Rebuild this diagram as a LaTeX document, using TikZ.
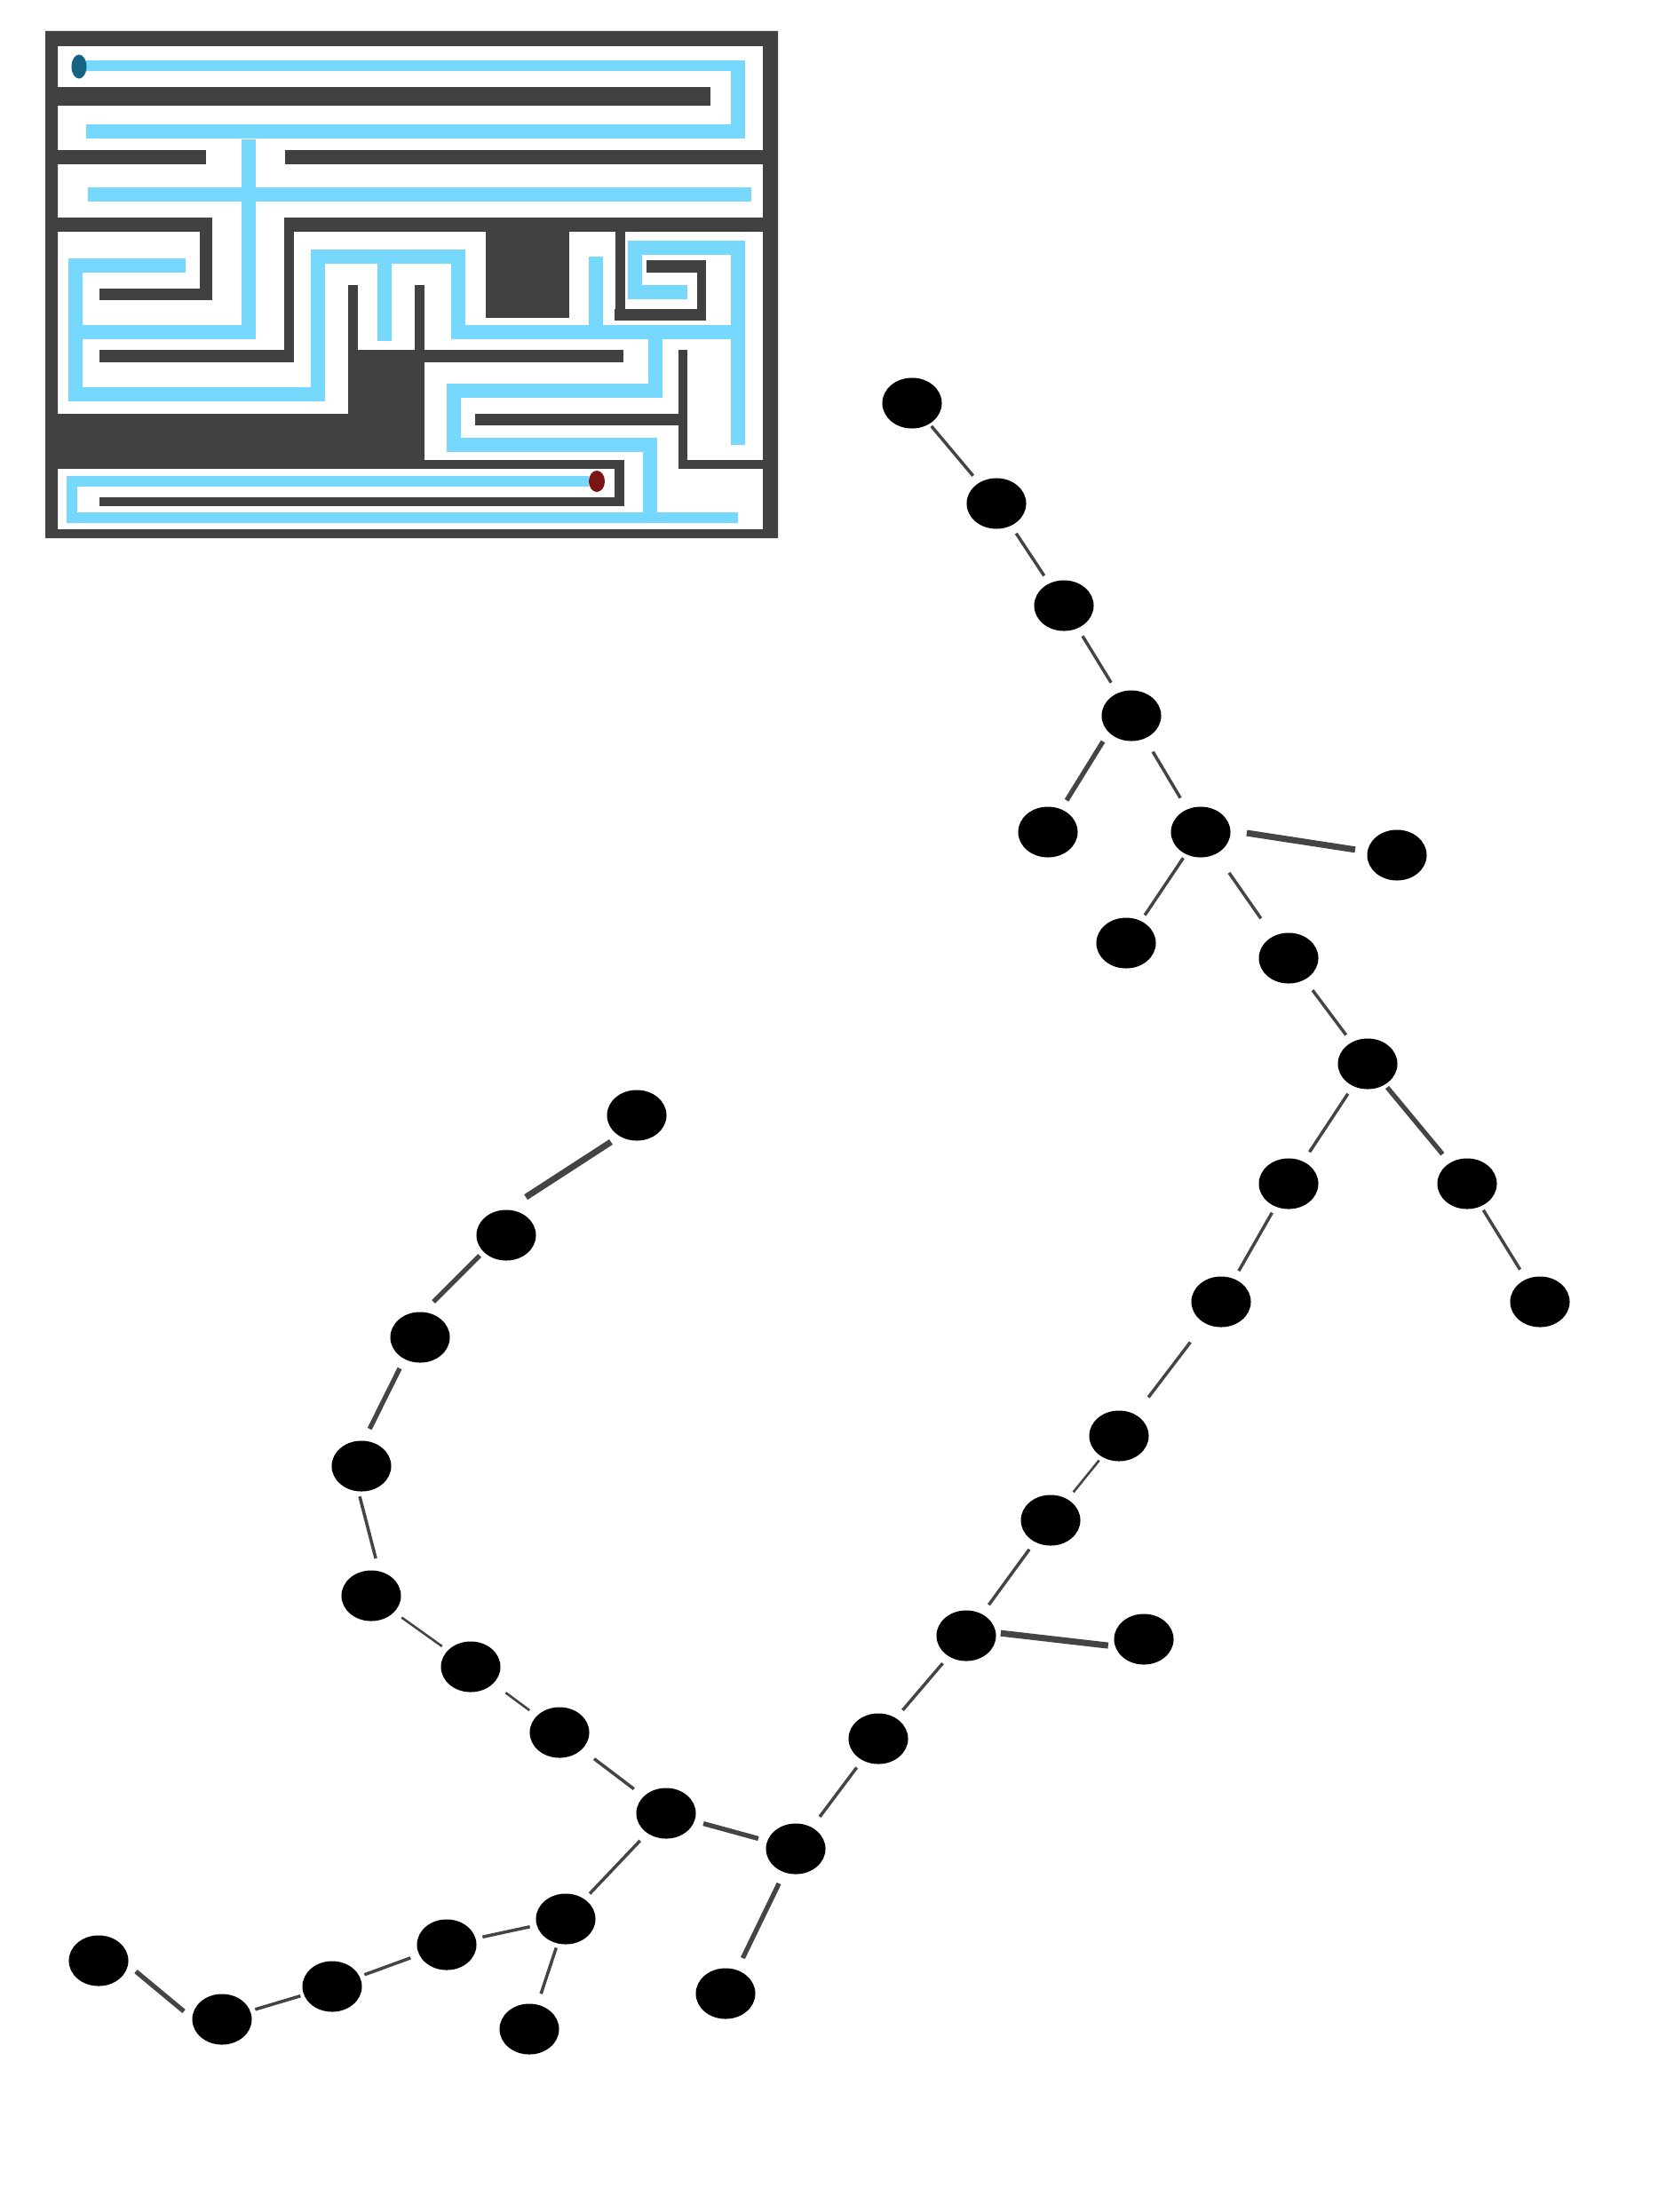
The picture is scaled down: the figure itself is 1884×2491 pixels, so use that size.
\documentclass[tikz,border=0pt]{standalone}
\usepackage{tikz}
\usetikzlibrary{shapes.geometric}
\definecolor{wallgray}{RGB}{65,65,65}
\definecolor{mazeblue}{RGB}{118,216,253}
\definecolor{startblue}{RGB}{22,100,130}
\definecolor{goalred}{RGB}{122,21,21}
\definecolor{linkgray}{RGB}{68,68,68}

\begin{document}
\begin{tikzpicture}[
    x=0.01cm, y=-0.01cm,
    wall/.style={fill=wallgray},
    route/.style={draw=mazeblue, line width=4.5pt, line join=miter},
    thinroute/.style={route, line width=3.4pt},
    vertex/.style={
      ellipse, fill=black, inner sep=0pt, outer sep=0pt,
      minimum width=0.67cm, minimum height=0.57cm
    },
    link/.style={draw=linkgray, line width=1pt, shorten <=3pt, shorten >=3pt},
    thinlink/.style={link, line width=0.75pt},
    midlink/.style={link, line width=1.5pt},
    boldlink/.style={link, line width=2pt}
  ]
    \path[use as bounding box, fill=white] (0,0) rectangle (1884,2491);

    % maze
    \fill[wall, even odd rule] (51,35) rectangle (876,606) (65,52) rectangle (859,596);
    \fill[wall] (65,98) rectangle (800,119);
    \fill[wall] (65,169) rectangle (232,185);
    \fill[wall] (321,169) rectangle (859,185);
    \fill[wall] (65,245) rectangle (239,261);
    \fill[wall] (225,245) rectangle (239,338);
    \fill[wall] (112,325) rectangle (239,338);
    \fill[wall] (320,245) rectangle (859,261);
    \fill[wall] (320,245) rectangle (331,408);
    \fill[wall] (112,394) rectangle (331,408);
    \fill[wall] (547,245) rectangle (641,358);
    \fill[wall] (693,245) rectangle (704,361);
    \fill[wall] (692,348) rectangle (795,361);
    \fill[wall] (785,293) rectangle (795,361);
    \fill[wall] (728,293) rectangle (795,307);
    \fill[wall] (392,321) rectangle (403,394);
    \fill[wall] (467,321) rectangle (478,394);
    \fill[wall] (392,394) rectangle (478,528);
    \fill[wall] (65,466) rectangle (478,528);
    \fill[wall] (478,394) rectangle (702,408);
    \fill[wall] (450,518) rectangle (703,528);
    \fill[wall] (692,518) rectangle (703,570);
    \fill[wall] (112,560) rectangle (703,570);
    \fill[wall] (535,466) rectangle (774,479);
    \fill[wall] (764,394) rectangle (774,528);
    \fill[wall] (764,518) rectangle (859,528);

    \draw[thinroute] (97,74) -- (839,74);
    \draw[route] (831,68) -- (831,148) -- (97,148);
    \draw[route] (99,219) -- (846,219);
    \draw[route] (280,157) -- (280,374) -- (85,374);
    \draw[route] (209,299) -- (85,299) -- (85,444) -- (358,444) -- (358,289)
      -- (516,289) -- (516,374) -- (839,374);
    \draw[route] (433,289) -- (433,384);
    \draw[route] (671,289) -- (671,374);
    \draw[route] (774,329) -- (715,329) -- (715,279) -- (831,279) -- (831,501);
    \draw[route] (738,374) -- (738,440) -- (511,440) -- (511,501) -- (732,501) -- (732,583);
    \draw[thinroute] (831,583) -- (81,583) -- (81,542) -- (663,542);
    \fill[startblue] (89,75) ellipse [x radius=0.085cm, y radius=0.135cm];
    \fill[goalred] (672,542) ellipse [x radius=0.09cm, y radius=0.12cm];

    % tree
    \node[vertex] (n1) at (1027,454) {};
    \node[vertex] (n2) at (1122,567) {};
    \node[vertex] (n3) at (1198,682) {};
    \node[vertex] (n4) at (1274,806) {};
    \node[vertex] (n5) at (1180,937) {};
    \node[vertex] (n6) at (1352,937) {};
    \node[vertex] (n7) at (1573,963) {};
    \node[vertex] (n8) at (1268,1062) {};
    \node[vertex] (n9) at (1451,1079) {};
    \node[vertex] (n10) at (1540,1198) {};
    \node[vertex] (n11) at (1451,1333) {};
    \node[vertex] (n12) at (1652,1333) {};
    \node[vertex] (n13) at (1734,1466) {};
    \node[vertex] (n14) at (1375,1466) {};
    \node[vertex] (n15) at (1260,1617) {};
    \node[vertex] (n16) at (1183,1712) {};
    \node[vertex] (n17) at (1088,1842) {};
    \node[vertex] (n18) at (1288,1846) {};
    \node[vertex] (n19) at (989,1958) {};
    \node[vertex] (n20) at (896,2082) {};
    \node[vertex] (n21) at (817,2245) {};
    \node[vertex] (n22) at (750,2042) {};
    \node[vertex] (n23) at (637,2161) {};
    \node[vertex] (n24) at (596,2285) {};
    \node[vertex] (n25) at (503,2190) {};
    \node[vertex] (n26) at (374,2237) {};
    \node[vertex] (n27) at (250,2274) {};
    \node[vertex] (n28) at (111,2208) {};
    \node[vertex] (n29) at (630,1951) {};
    \node[vertex] (n30) at (530,1877) {};
    \node[vertex] (n31) at (418,1797) {};
    \node[vertex] (n32) at (407,1651) {};
    \node[vertex] (n33) at (473,1506) {};
    \node[vertex] (n34) at (570,1391) {};
    \node[vertex] (n35) at (717,1256) {};

    \draw[link, shorten <=1pt] (n1) -- (n2);
    \draw[link] (n2) -- (n3);
    \draw[link, shorten >=4pt] (n3) -- (n4);
    \draw[midlink, shorten <=3.5pt, shorten >=3.4pt] (n4.-144) -- (n5.60);
    \draw[link, shorten <=5pt, shorten >=4.3pt] (n4) -- (n6);
    \draw[boldlink, shorten <=5.3pt, shorten >=4pt] (n6.3) -- (n7.173);
    \draw[link, shorten <=1.5pt, shorten >=2.3pt] (n6) -- (n8);
    \draw[link, shorten <=7.4pt, shorten >=7pt] (n6) -- (n9);
    \draw[link, shorten <=4.3pt] (n9) -- (n10);
    \draw[link, shorten >=3.7pt] (n10) -- (n11);
    \draw[midlink, shorten <=1.2pt, shorten >=3.7pt] (n10) -- (n12);
    \draw[link, shorten <=1.5pt, shorten >=3.7pt] (n12) -- (n13);
    \draw[link, shorten <=2.3pt] (n11) -- (n14);
    \draw[link, shorten <=7.7pt, shorten >=7pt] (n14) -- (n15);
    \draw[thinlink, shorten <=1.5pt] (n15) -- (n16);
    \draw[link, shorten >=3.7pt] (n16) -- (n17);
    \draw[boldlink, shorten <=1.6pt, shorten >=2.3pt] (n17.6) -- (n18.-166);
    \draw[link, shorten >=3.4pt] (n17) -- (n19);
    \draw[link, shorten >=4.3pt] (n19) -- (n20);
    \draw[midlink, shorten <=4pt, shorten >=4.3pt] (n20) -- (n21);
    \draw[midlink] (n22) -- (n20);
    \draw[link, shorten <=5pt, shorten >=4pt] (n29) -- (n22);
    \draw[link, shorten <=3.4pt, shorten >=2.5pt] (n22) -- (n23);
    \draw[link, shorten <=1.5pt, shorten >=3.7pt] (n23) -- (n24);
    \draw[link, shorten <=2.3pt, shorten >=2.3pt] (n23) -- (n25);
    \draw[link, shorten >=1.7pt] (n25) -- (n26);
    \draw[link, shorten <=1.2pt, shorten >=1.7pt] (n26) -- (n27);
    \draw[midlink, shorten <=3.5pt, shorten >=3.3pt] (n27.178) -- (n28.-8);
    \draw[thinlink, shorten <=5pt] (n30) -- (n29);
    \draw[thinlink, shorten >=2.3pt] (n31) -- (n30);
    \draw[link, shorten <=1.7pt, shorten >=4.3pt] (n32.-97) -- (n31.72);
    \draw[midlink, shorten <=3.4pt, shorten >=4.3pt] (n33.-126) -- (n32.85);
    \draw[midlink, shorten <=1.8pt, shorten >=4.7pt] (n34.-144) -- (n33.83);
    \draw[boldlink, shorten <=3.4pt, shorten >=7.5pt] (n35.-129) -- (n34.90);
  \end{tikzpicture}
\end{document}
